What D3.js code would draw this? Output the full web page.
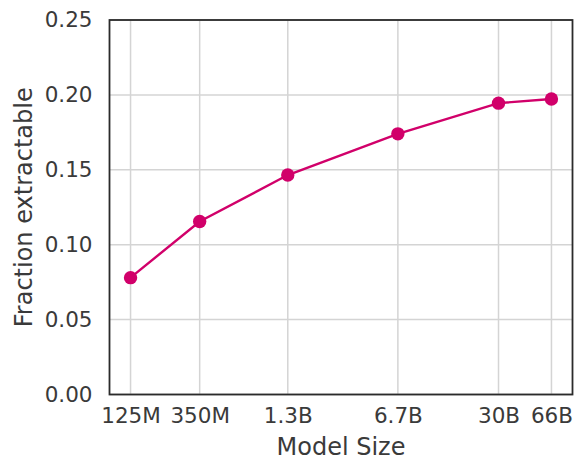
<!DOCTYPE html>
<html>
<head>
<meta charset="utf-8">
<script src="https://cdn.jsdelivr.net/npm/d3@7"></script>
<style>
  html, body { margin: 0; padding: 0; background: #fff; }
  svg { display: block; }
  text { font-family: "DejaVu Sans", sans-serif; fill: #3a3a3a; }
</style>
</head>
<body>
<svg id="chart" width="575" height="462"></svg>
<script>
// Model sizes (parameter counts) and their labels
const modelLabels = ["125M", "350M", "1.3B", "6.7B", "30B", "66B"];
const modelParams = [125e6, 350e6, 1.3e9, 6.7e9, 30e9, 66e9];
// Fraction of sequences extractable for each model size
const fractionExtractable = [0.078, 0.1155, 0.1465, 0.174, 0.1945, 0.1973];
// Y-axis ticks
const yTicks = [0.00, 0.05, 0.10, 0.15, 0.20, 0.25];

const svg = d3.select("#chart");
const margin = { left: 109.5, right: 2.5, top: 20, bottom: 67.5 };
const W = 575, H = 462;
const x0 = margin.left, x1 = W - margin.right;
const y0 = H - margin.bottom, y1 = margin.top;

// Log x scale with 5% padding on each side (in log space)
const lmin = Math.log10(d3.min(modelParams)), lmax = Math.log10(d3.max(modelParams));
const pad = (lmax - lmin) * 0.05;
const x = d3.scaleLog()
  .domain([Math.pow(10, lmin - pad), Math.pow(10, lmax + pad)])
  .range([x0, x1]);
const y = d3.scaleLinear().domain([0, 0.25]).range([y0, y1]);

// Grid lines
const grid = svg.append("g");
grid.selectAll("line.v").data(modelParams).join("line")
  .attr("x1", d => x(d)).attr("x2", d => x(d))
  .attr("y1", y0).attr("y2", y1)
  .attr("stroke", "#d4d4d4").attr("stroke-width", 1.5);
grid.selectAll("line.h").data(yTicks).join("line")
  .attr("x1", x0).attr("x2", x1)
  .attr("y1", d => y(d)).attr("y2", d => y(d))
  .attr("stroke", "#d4d4d4").attr("stroke-width", 1.5);

// Axes (labels only, no tick marks)
const xAxis = d3.axisBottom(x)
  .tickValues(modelParams)
  .tickFormat((d, i) => modelLabels[i])
  .tickSize(0).tickPadding(13);
const gx = svg.append("g").attr("transform", `translate(0,${y0})`).call(xAxis);
gx.select(".domain").remove();
gx.selectAll("text").style("font-size", "21.5px").attr("fill", "#3a3a3a");

const yAxis = d3.axisLeft(y)
  .tickValues(yTicks)
  .tickFormat(d3.format(".2f"))
  .tickSize(0).tickPadding(17);
const gy = svg.append("g").attr("transform", `translate(${x0},0)`).call(yAxis);
gy.select(".domain").remove();
gy.selectAll("text").style("font-size", "21.5px").attr("fill", "#3a3a3a");

// Series line and markers
const pts = modelParams.map((p, i) => [p, fractionExtractable[i]]);
const color = "#d1006a";
svg.append("path")
  .datum(pts)
  .attr("fill", "none")
  .attr("stroke", color)
  .attr("stroke-width", 2.4)
  .attr("d", d3.line().x(d => x(d[0])).y(d => y(d[1])));
svg.selectAll("circle.pt").data(pts).join("circle")
  .attr("cx", d => x(d[0])).attr("cy", d => y(d[1]))
  .attr("r", 6.7).attr("fill", color);

// Frame
svg.append("rect")
  .attr("x", x0).attr("y", y1)
  .attr("width", x1 - x0).attr("height", y0 - y1)
  .attr("fill", "none").attr("stroke", "#2b2b2b").attr("stroke-width", 1.8);

// Axis titles
svg.append("text")
  .attr("x", (x0 + x1) / 2).attr("y", 455)
  .attr("text-anchor", "middle")
  .style("font-size", "24px")
  .text("Model Size");
svg.append("text")
  .attr("transform", `translate(32,${(y0 + y1) / 2}) rotate(-90)`)
  .attr("text-anchor", "middle")
  .style("font-size", "24px")
  .text("Fraction extractable");
</script>
</body>
</html>
